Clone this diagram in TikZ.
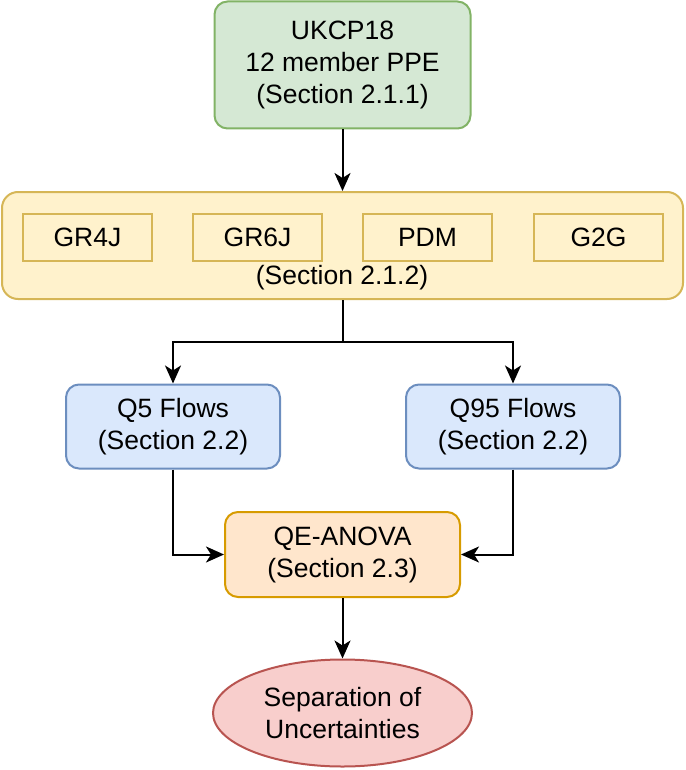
\documentclass[tikz,border=0pt]{standalone}
\usepackage{fontspec}
\setmainfont{Liberation Sans}
\usetikzlibrary{shapes.geometric,arrows.meta}
\definecolor{gfill}{HTML}{D5E8D4}\definecolor{gline}{HTML}{82B366}
\definecolor{yfill}{HTML}{FFF2CC}\definecolor{yline}{HTML}{D6B656}
\definecolor{bfill}{HTML}{DAE8FC}\definecolor{bline}{HTML}{6C8EBF}
\definecolor{ofill}{HTML}{FFE6CC}\definecolor{oline}{HTML}{D79B00}
\definecolor{rfill}{HTML}{F8CECC}\definecolor{rline}{HTML}{B85450}
\begin{document}
\begin{tikzpicture}[x=1pt,y=-1pt,
  every node/.style={font=\fontsize{26.5}{32}\selectfont, align=center, inner sep=0pt},
  box/.style={rectangle, draw, line width=2pt, rounded corners=13pt},
  inbox/.style={rectangle, draw=yline, line width=2pt, minimum width=129pt, minimum height=47pt},
  conn/.style={line width=2pt, -{Stealth[length=18pt,width=16pt,inset=5pt]}},
  plain/.style={line width=2pt}]
\useasboundingbox (0,0) rectangle (685,770);
\node[box, fill=gfill, draw=gline, minimum width=256pt, minimum height=127pt] (top) at (342.5,65) {UKCP18\\12 member PPE\\(Section 2.1.1)};
\node[box, fill=yfill, draw=yline, minimum width=681pt, minimum height=107pt, rounded corners=16pt] (big) at (342.5,245.5) {};
\node[inbox] (gr4j) at (87.5,237.5) {GR4J};
\node[inbox] (gr6j) at (257.5,237.5) {GR6J};
\node[inbox] (pdm) at (427.5,237.5) {PDM};
\node[inbox] (g2g) at (598.5,237.5) {G2G};
\node (sec) at (342,278) {(Section 2.1.2)};
\node[box, fill=bfill, draw=bline, minimum width=214pt, minimum height=84pt] (q5) at (173,426.5) {Q5 Flows\\(Section 2.2)};
\node[box, fill=bfill, draw=bline, minimum width=214pt, minimum height=84pt] (q95) at (513,426.5) {Q95 Flows\\(Section 2.2)};
\node[box, fill=ofill, draw=oline, minimum width=235pt, minimum height=85pt] (qe) at (342.5,554.5) {QE-ANOVA\\(Section 2.3)};
\node[ellipse, draw=rline, fill=rfill, line width=2pt, minimum width=259pt, minimum height=107pt] (ell) at (342.5,713) {Separation of\\Uncertainties};
\coordinate (split) at (342.5,342);
\draw[conn] (top.south) -- (big.north);
\draw[plain] (big.south) -- (split);
\draw[conn] (split) -| (q5.north);
\draw[conn] (split) -| (q95.north);
\draw[conn] (q5.south) |- (qe.west);
\draw[conn] (q95.south) |- (qe.east);
\draw[conn] (qe.south) -- (ell.north);
\end{tikzpicture}
\end{document}
